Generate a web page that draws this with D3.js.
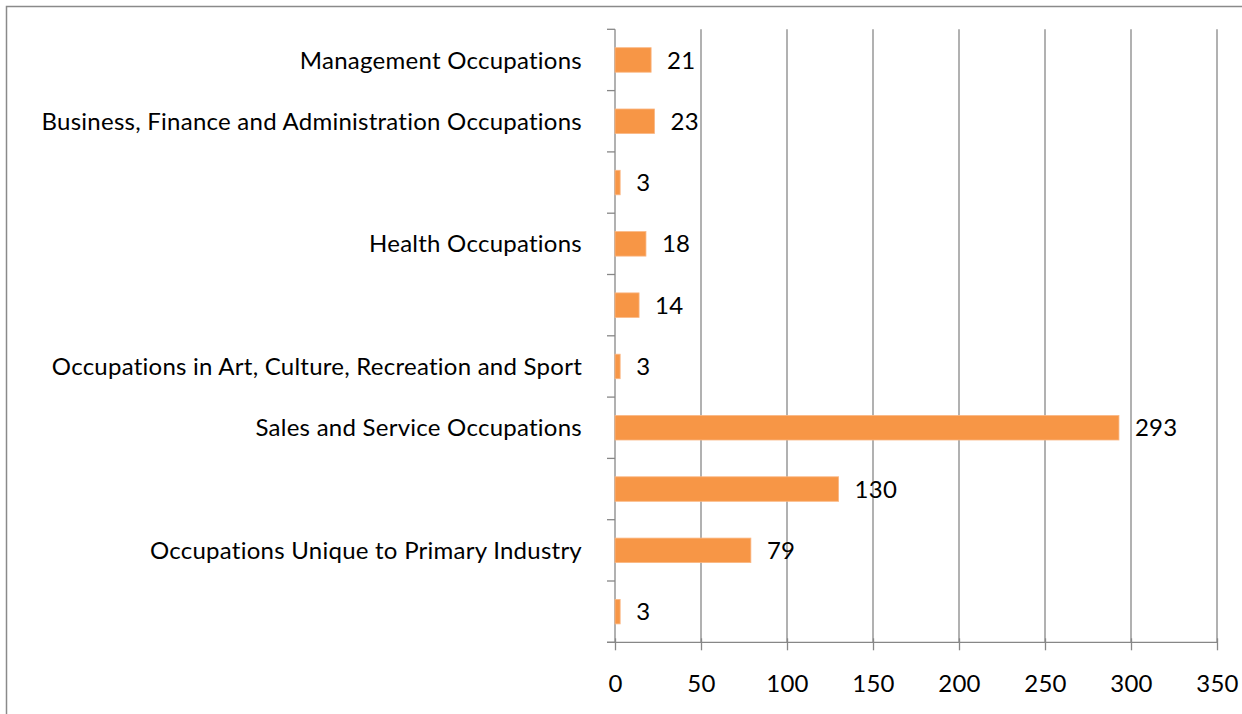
<!DOCTYPE html>
<html>
<head>
<meta charset="utf-8">
<script src="https://cdn.jsdelivr.net/npm/d3@7"></script>
<style>
  body { margin: 0; background: #fff; }
  #chart { width: 1242px; height: 714px; }
  text {
    font-family: Lato, "Open Sans", sans-serif;
    fill: #000;
    font-variant-ligatures: none;
    letter-spacing: 0.25px;
  }
</style>
</head>
<body>
<div id="chart"></div>
<script>
// categories top to bottom (labels Excel skipped are left blank)
const categories = [
  "Management Occupations",
  "Business, Finance and Administration Occupations",
  "",
  "Health Occupations",
  "",
  "Occupations in Art, Culture, Recreation and Sport",
  "Sales and Service Occupations",
  "",
  "Occupations Unique to Primary Industry",
  ""
];
const values = [21, 23, 3, 18, 14, 3, 293, 130, 79, 3];
const xTicks = [0, 50, 100, 150, 200, 250, 300, 350];

const W = 1242, H = 714;
const margin = { top: 29.3, left: 615, right: 25, bottom: 71.7 };
const width = W - margin.left - margin.right;
const height = H - margin.top - margin.bottom;
const fontSize = 24;

const svg = d3.select("#chart").append("svg")
  .attr("width", W)
  .attr("height", H);

// chart outer border (cropped on right and bottom)
svg.append("rect")
  .attr("x", 6.5).attr("y", 6.5)
  .attr("width", W + 20).attr("height", H + 20)
  .attr("fill", "none")
  .attr("stroke", "#8a8a8a")
  .attr("stroke-width", 1.5);

const g = svg.append("g")
  .attr("transform", `translate(${margin.left},${margin.top})`);

const x = d3.scaleLinear().domain([0, 350]).range([0, 602]);

const y = d3.scaleBand()
  .domain(d3.range(categories.length))
  .range([0, height])
  .paddingInner(0.6)
  .paddingOuter(0.3);

// vertical gridlines
g.append("g")
  .selectAll("line")
  .data(xTicks.slice(1))
  .join("line")
  .attr("x1", d => x(d)).attr("x2", d => x(d))
  .attr("y1", 0).attr("y2", height)
  .attr("stroke", "#878787")
  .attr("stroke-width", 1.3);

// bottom axis
const xAxis = g.append("g")
  .attr("transform", `translate(0,${height})`)
  .call(d3.axisBottom(x).tickValues(xTicks).tickSize(0).tickPadding(0));
xAxis.select(".domain").remove();
xAxis.selectAll(".tick line").remove();
xAxis.selectAll(".tick").append("line")
  .attr("y1", -4).attr("y2", 8)
  .attr("stroke", "#878787").attr("stroke-width", 1.3);
xAxis.selectAll(".tick text")
  .attr("y", 50)
  .attr("dy", null)
  .style("font-size", fontSize + "px")
  .style("font-family", "Lato, sans-serif")
  .attr("fill", "#000");
xAxis.append("line")
  .attr("x1", -8).attr("x2", x(350))
  .attr("stroke", "#878787").attr("stroke-width", 1.3);

// left axis line with ticks at category boundaries
const step = y.step();
const bounds = d3.range(categories.length + 1).map(i => i * step);
g.append("line")
  .attr("x1", 0).attr("x2", 0)
  .attr("y1", 0).attr("y2", height)
  .attr("stroke", "#878787").attr("stroke-width", 1.3);
g.append("g")
  .selectAll("line")
  .data(bounds)
  .join("line")
  .attr("x1", -8).attr("x2", 0)
  .attr("y1", d => d).attr("y2", d => d)
  .attr("stroke", "#878787").attr("stroke-width", 1.3);

// category labels
g.append("g")
  .selectAll("text")
  .data(categories)
  .join("text")
  .attr("x", -33)
  .attr("y", (d, i) => y(i) + y.bandwidth() / 2)
  .attr("dy", "0.36em")
  .attr("text-anchor", "end")
  .style("font-size", fontSize + "px")
  .text(d => d);

// bars
g.append("g")
  .selectAll("rect")
  .data(values)
  .join("rect")
  .attr("x", x(0))
  .attr("y", (d, i) => y(i))
  .attr("width", d => x(d) - x(0))
  .attr("height", y.bandwidth())
  .attr("fill", "#f79646")
  .attr("stroke", "#fab784")
  .attr("stroke-width", 0.8);

// value labels
g.append("g")
  .selectAll("text")
  .data(values)
  .join("text")
  .attr("x", d => x(d) + 16)
  .attr("y", (d, i) => y(i) + y.bandwidth() / 2)
  .attr("dy", "0.36em")
  .style("font-size", fontSize + "px")
  .text(d => d);
</script>
</body>
</html>
